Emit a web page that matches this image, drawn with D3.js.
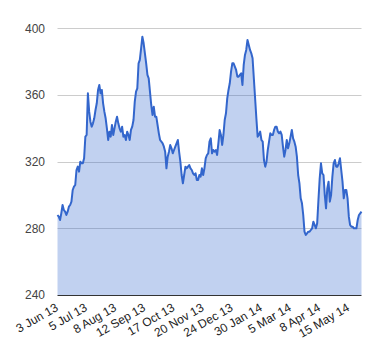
<!DOCTYPE html>
<html>
<head>
<meta charset="utf-8">
<script src="https://cdn.jsdelivr.net/npm/d3@7"></script>
<style>
  html, body { margin: 0; padding: 0; background: #fff; }
  svg { display: block; }
</style>
</head>
<body>
<div id="chart"></div>
<script>
// Daily closing values (trading days)
const values = [
  288,287,285,289,294,291,290,288,290,293,
  294,296,303,305,306,315,317,314,320,319,
  319,322,335,336,361,350,344,341,343,346,351,
  355,363,366,361,363,355,350,346,340,333,
  338,335,342,336,340,344,347,343,340,338,
  341,335,336,333,338,336,333,339,341,345,
  356,362,364,379,381,388,395,391,385,379,
  372,370,362,354,348,353,347,347,342,337,
  333,332,331,329,326,316,323,326,330,328,325,
  327,329,331,333,326,320,312,307,312,317,
  316,317,318,316,315,313,312,313,309,309,
  312,311,316,312,316,322,324,325,332,334,
  325,327,326,327,324,331,339,336,330,336,
  345,349,358,363,367,374,379,379,377,375,371,
  371,372,373,366,378,384,387,393,390,387,
  385,382,370,358,346,335,336,338,333,332,
  321,317,320,327,332,337,336,336,339,341,
  341,338,337,338,336,329,323,327,333,328,
  331,335,339,334,332,329,323,312,307,298,
  295,288,278,276,277,278,278,279,280,284,282,
  280,283,297,310,319,313,312,300,292,304,
  308,296,300,311,319,321,317,317,319,322,
  315,308,298,303,303,298,287,282,281,281,
  280,280,280,285,288,289,290
];
// Category labels shown every 23rd point
const tickLabels = ["3 Jun 13","5 Jul 13","8 Aug 13","12 Sep 13","17 Oct 13","20 Nov 13",
                    "24 Dec 13","30 Jan 14","5 Mar 14","8 Apr 14","15 May 14"];
const labelStep = 23;
const yTicks = [240, 280, 320, 360, 400];

const W = 380, H = 360;
const mLeft = 57.5, mRight = 361.5, mTop = 28.3, mBottom = 295;

const svg = d3.select("#chart").append("svg")
  .attr("width", W).attr("height", H)
  .style("font-family", "'Liberation Sans', Arial, sans-serif");

const x = d3.scaleLinear().domain([0, values.length - 1]).range([mLeft, mRight]);
const y = d3.scaleLinear().domain([240, 400]).range([mBottom, mTop]);

// gridlines
svg.append("g").selectAll("line")
  .data(yTicks.filter(d => d !== 240))
  .join("line")
  .attr("x1", mLeft).attr("x2", mRight)
  .attr("y1", d => Math.round(y(d)) + 0.5).attr("y2", d => Math.round(y(d)) + 0.5)
  .attr("stroke", "#cccccc").attr("stroke-width", 1);

// area
const area = d3.area()
  .x((d, i) => x(i))
  .y0(y(240))
  .y1(d => y(d));
svg.append("path").datum(values)
  .attr("d", area)
  .attr("fill", "#3366cc").attr("fill-opacity", 0.3);

// line
const line = d3.line().x((d, i) => x(i)).y(d => y(d));
svg.append("path").datum(values)
  .attr("d", line)
  .attr("fill", "none")
  .attr("stroke", "#3366cc")
  .attr("stroke-width", 2)
  .attr("stroke-linejoin", "round");

// baseline
svg.append("line")
  .attr("x1", mLeft).attr("x2", mRight)
  .attr("y1", Math.round(y(240)) + 0.5).attr("y2", Math.round(y(240)) + 0.5)
  .attr("stroke", "#333333").attr("stroke-width", 1);

// y labels
svg.append("g").selectAll("text")
  .data(yTicks)
  .join("text")
  .attr("x", 45).attr("y", d => y(d))
  .attr("dy", "0.35em")
  .attr("text-anchor", "end")
  .attr("font-size", 12)
  .attr("fill", "#444444")
  .text(d => d);

// x labels (rotated)
svg.append("g").selectAll("text")
  .data(tickLabels)
  .join("text")
  .attr("transform", (d, i) => `translate(${x(i * labelStep) + 1.5},310) rotate(-30)`)
  .attr("text-anchor", "end")
  .attr("font-size", 12)
  .attr("fill", "#222222")
  .text(d => d);
</script>
</body>
</html>
